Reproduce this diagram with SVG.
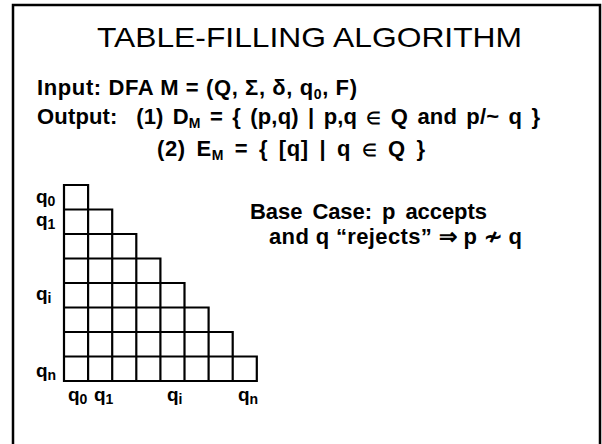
<svg xmlns="http://www.w3.org/2000/svg" width="602" height="444" viewBox="0 0 602 444">
<style>
.t{font-family:"Liberation Sans",Arial,sans-serif;fill:#000}
.b{font-weight:bold;font-size:22px}
.lab{font-weight:bold;font-size:19px}
.s{font-size:14px}
.e{font-size:17px}
.grid{fill:none;stroke:#000;stroke-width:2.2;stroke-linecap:square}
</style>
<rect x="13" y="5" width="587" height="460" fill="#fff" stroke="#000" stroke-width="2.5"/>
<g id="title"><text class="t" x="97" y="47" font-size="28" textLength="425" lengthAdjust="spacingAndGlyphs">TABLE-FILLING ALGORITHM</text></g>
<g id="input"><text class="t b" x="37" y="95" textLength="320" lengthAdjust="spacing">Input: DFA M = (Q, Σ, δ, q<tspan class="s" dy="4">0</tspan><tspan dy="-4">, F)</tspan></text></g>
<g id="output1"><text class="t b" x="37" y="124" word-spacing="3" textLength="503" lengthAdjust="spacing">Output:&#160; (1) D<tspan class="s" dy="4">M</tspan><tspan dy="-4"> = { (p,q) | p,q </tspan><tspan class="e">∈</tspan> Q and p/~ q }</text></g>
<g id="output2"><text class="t b" x="157" y="156" word-spacing="4" textLength="268" lengthAdjust="spacing">(2) E<tspan class="s" dy="4">M</tspan><tspan dy="-4"> = { [q] | q </tspan><tspan class="e">∈</tspan> Q }</text></g>
<g id="basecase"><text class="t b" x="250" y="219" word-spacing="4" textLength="237" lengthAdjust="spacing">Base Case: p accepts</text><text class="t b" x="269" y="244" textLength="253" lengthAdjust="spacing">and q “rejects” ⇒ p ≁ q</text></g>
<g id="table">
<path class="grid" d="M64,185H88.1 M64,209.5H112.2 M64,234H136.3 M64,258.5H160.4 M64,283H184.5 M64,307.5H208.6 M64,332H232.7 M64,356.5H256.8 M64,381H256.8 M64,185V381 M88.1,185V381 M112.2,209.5V381 M136.3,234V381 M160.4,258.5V381 M184.5,283V381 M208.6,307.5V381 M232.7,332V381 M256.8,356.5V381"/>
</g>
<g id="labels">
<text class="t lab" x="36" y="203">q<tspan class="s" dy="3">0</tspan></text>
<text class="t lab" x="36" y="226">q<tspan class="s" dy="3">1</tspan></text>
<text class="t lab" x="36" y="300">q<tspan class="s" dy="3">i</tspan></text>
<text class="t lab" x="36" y="377">q<tspan class="s" dy="3">n</tspan></text>
<text class="t lab" x="68" y="401">q<tspan class="s" dy="3">0</tspan></text>
<text class="t lab" x="94" y="401">q<tspan class="s" dy="3">1</tspan></text>
<text class="t lab" x="167" y="401">q<tspan class="s" dy="3">i</tspan></text>
<text class="t lab" x="238" y="401">q<tspan class="s" dy="3">n</tspan></text>
</g>
</svg>
